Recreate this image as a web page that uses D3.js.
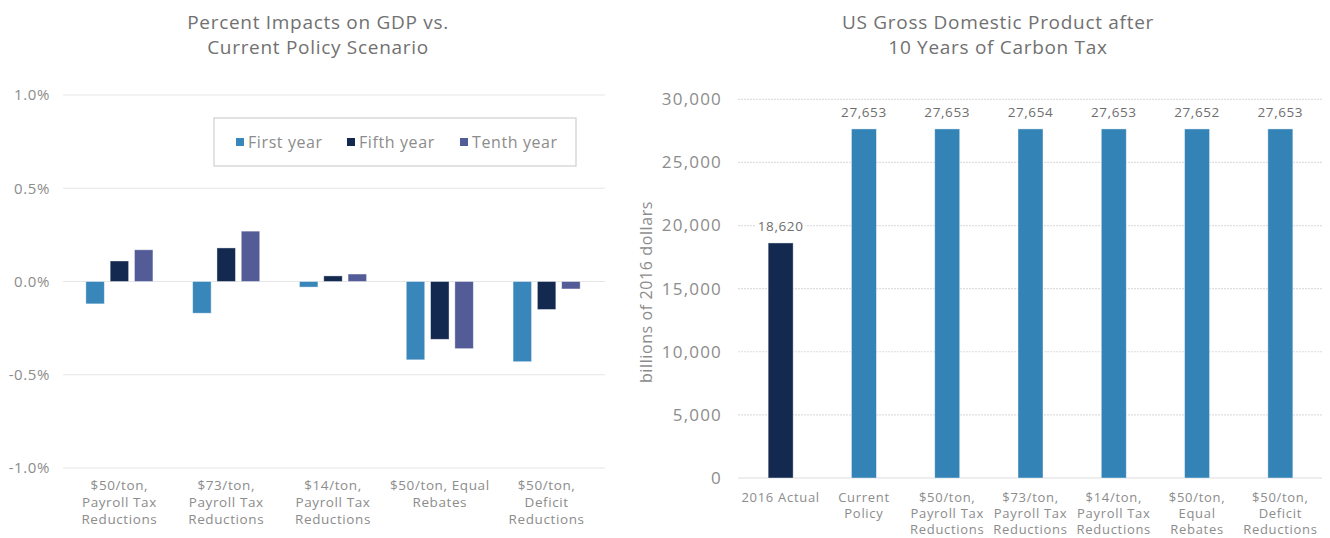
<!DOCTYPE html>
<html><head><meta charset="utf-8">
<script src="https://cdn.jsdelivr.net/npm/d3@7/dist/d3.min.js"></script>
<style>
body{margin:0;background:#fff}
text{font-family:"Open Sans",sans-serif}
</style>
</head><body>
<svg id="chart" width="1330" height="538"></svg>
<script>
// ---------- Left chart data ----------
const leftCategories = [
  "$50/ton,|Payroll Tax|Reductions",
  "$73/ton,|Payroll Tax|Reductions",
  "$14/ton,|Payroll Tax|Reductions",
  "$50/ton, Equal|Rebates",
  "$50/ton,|Deficit|Reductions"
];
const seriesNames = ["First year", "Fifth year", "Tenth year"];
const firstYear = [-0.12, -0.17, -0.03, -0.42, -0.43];
const fifthYear = [0.11, 0.18, 0.03, -0.31, -0.15];
const tenthYear = [0.17, 0.27, 0.04, -0.36, -0.04];
const leftTicks = [-1.0, -0.5, 0.0, 0.5, 1.0];
const leftTitle = ["Percent Impacts on GDP vs.", "Current Policy Scenario"];

// ---------- Right chart data ----------
const rightCategories = [
  "2016 Actual",
  "Current|Policy",
  "$50/ton,|Payroll Tax|Reductions",
  "$73/ton,|Payroll Tax|Reductions",
  "$14/ton,|Payroll Tax|Reductions",
  "$50/ton,|Equal|Rebates",
  "$50/ton,|Deficit|Reductions"
];
const gdpValues = [18620, 27653, 27653, 27654, 27653, 27652, 27653];
const rightTicks = [0, 5000, 10000, 15000, 20000, 25000, 30000];
const rightTitle = ["US Gross Domestic Product after", "10 Years of Carbon Tax"];
const rightAxisTitle = "billions of 2016 dollars";

// ---------- styles ----------
const seriesColors = ["#3987ba", "#13294f", "#535c97"];
const actualColor = "#14294f";
const policyColor = "#3483b7";
const textColor = "#8c8c8c";
const titleColor = "#717171";
const gridColor = "#e6e6e6";

const svg = d3.select("#chart");

// ================= LEFT CHART =================
const seriesData = [firstYear, fifthYear, tenthYear];
const L = svg.append("g");
const x0 = d3.scaleBand().domain(leftCategories).range([66, 600]).paddingInner(0.372).paddingOuter(0.186);
const x1 = d3.scaleBand().domain(seriesNames).range([0, x0.bandwidth()]).paddingInner(0.24);
const yL = d3.scaleLinear().domain([-1, 1]).range([468, 95]);

L.selectAll(".lt").data(leftTicks).enter().append("line")
  .attr("x1", 63).attr("x2", 605)
  .attr("y1", d => yL(d)).attr("y2", d => yL(d))
  .attr("stroke", gridColor).attr("stroke-width", 1.2);

const yAxisL = d3.axisLeft(yL).tickValues(leftTicks).tickSize(0).tickPadding(0)
  .tickFormat(d => d3.format(".1f")(d).replace("\u2212", "-") + "%");
const gyL = L.append("g").attr("transform", "translate(50,0)").call(yAxisL);
gyL.select(".domain").remove();
gyL.selectAll("text").attr("fill", textColor).style("font-size", "15px")
  .style("letter-spacing", "0.6px").style("font-family", "'Open Sans',sans-serif");

seriesNames.forEach((s, si) => {
  L.selectAll(".b" + si).data(leftCategories).enter().append("rect")
    .attr("x", c => x0(c) + x1(s))
    .attr("width", x1.bandwidth())
    .attr("y", (c, i) => yL(Math.max(0, seriesData[si][i])))
    .attr("height", (c, i) => Math.abs(yL(seriesData[si][i]) - yL(0)))
    .attr("fill", seriesColors[si])
    .attr("stroke", "rgba(255,255,255,0.5)").attr("stroke-width", 0.8);
});

const xAxisL = d3.axisBottom(x0).tickSize(0).tickFormat("");
const gxL = L.append("g").attr("transform", "translate(0,470)").call(xAxisL);
gxL.select(".domain").remove();
gxL.selectAll(".tick").each(function(d) {
  const t = d3.select(this).append("text").attr("text-anchor", "middle")
    .attr("fill", textColor).style("font-size", "13.5px").style("letter-spacing", "0.6px");
  d.split("|").forEach((ln, i) => t.append("tspan").attr("x", 0).attr("y", 19.5 + i * 17).text(ln));
});

[0, 1].forEach(i => {
  svg.append("text").attr("x", 318).attr("y", 29 + i * 25).attr("text-anchor", "middle")
    .attr("fill", titleColor).style("font-size", "19px").style("letter-spacing", "0.7px").text(leftTitle[i]);
});

// legend
const lg = svg.append("g");
lg.append("rect").attr("x", 214).attr("y", 118).attr("width", 362).attr("height", 48)
  .attr("fill", "#fff").attr("stroke", "#cfcfcf").attr("stroke-width", 1.2);
const legendX = [236, 347, 460];
seriesNames.forEach((s, i) => {
  lg.append("rect").attr("x", legendX[i]).attr("y", 138).attr("width", 8).attr("height", 8).attr("fill", seriesColors[i]);
  lg.append("text").attr("x", legendX[i] + 12).attr("y", 148).attr("fill", textColor)
    .style("font-size", "16px").style("letter-spacing", "0.6px").text(s);
});

// ================= RIGHT CHART =================
const R = svg.append("g");
const xR = d3.scaleBand().domain(rightCategories).range([739, 1322]).paddingInner(0.7).paddingOuter(0.35);
const yR = d3.scaleLinear().domain([0, 30000]).range([478, 99.3]);

R.selectAll(".rt").data(rightTicks).enter().append("line")
  .attr("x1", 738).attr("x2", 1322)
  .attr("y1", d => yR(d)).attr("y2", d => yR(d))
  .attr("stroke", "#dedede").attr("stroke-width", 1.2)
  .attr("stroke-dasharray", d => d === 0 ? null : "2,1");

const yAxisR = d3.axisLeft(yR).tickValues(rightTicks).tickSize(0).tickPadding(0)
  .tickFormat(d3.format(","));
const gyR = R.append("g").attr("transform", "translate(722,0)").call(yAxisR);
gyR.select(".domain").remove();
gyR.selectAll("text").attr("fill", textColor).style("font-size", "17px")
  .style("letter-spacing", "1.2px").style("font-family", "'Open Sans',sans-serif");

R.selectAll(".gb").data(rightCategories).enter().append("rect")
  .attr("x", c => xR(c)).attr("width", xR.bandwidth())
  .attr("y", (c, i) => yR(gdpValues[i]))
  .attr("height", (c, i) => yR(0) - yR(gdpValues[i]))
  .attr("fill", (c, i) => i === 0 ? actualColor : policyColor)
  .attr("stroke", "rgba(255,255,255,0.5)").attr("stroke-width", 0.8);

const lbl = R.selectAll(".vl").data(rightCategories).enter().append("g");
lbl.each(function(c, i) {
  const g = d3.select(this);
  const cx = xR(c) + xR.bandwidth() / 2;
  const t = g.append("text").attr("x", cx).attr("y", yR(gdpValues[i]) - 12)
    .attr("text-anchor", "middle").attr("fill", "#6e6e6e").style("font-size", "13.5px")
    .style("letter-spacing", "0.6px")
    .text(d3.format(",")(gdpValues[i]));
  const bb = t.node().getBBox();
  g.insert("rect", "text").attr("x", bb.x - 2).attr("y", bb.y).attr("width", bb.width + 4).attr("height", bb.height).attr("fill", "#fff");
});

const xAxisR = d3.axisBottom(xR).tickSize(0).tickFormat("");
const gxR = R.append("g").attr("transform", "translate(0,478)").call(xAxisR);
gxR.select(".domain").remove();
gxR.selectAll(".tick").each(function(d) {
  const t = d3.select(this).append("text").attr("text-anchor", "middle")
    .attr("fill", textColor).style("font-size", "13px").style("letter-spacing", "0.7px");
  d.split("|").forEach((ln, i) => t.append("tspan").attr("x", 0).attr("y", 23.5 + i * 16).text(ln));
});

R.append("text").attr("transform", "translate(652,292) rotate(-90)").attr("text-anchor", "middle")
  .attr("fill", textColor).style("font-size", "16px").style("letter-spacing", "0.6px").text(rightAxisTitle);

[0, 1].forEach(i => {
  svg.append("text").attr("x", 998).attr("y", 29 + i * 25).attr("text-anchor", "middle")
    .attr("fill", titleColor).style("font-size", "19px").style("letter-spacing", "0.7px").text(rightTitle[i]);
});
</script>
</body></html>
